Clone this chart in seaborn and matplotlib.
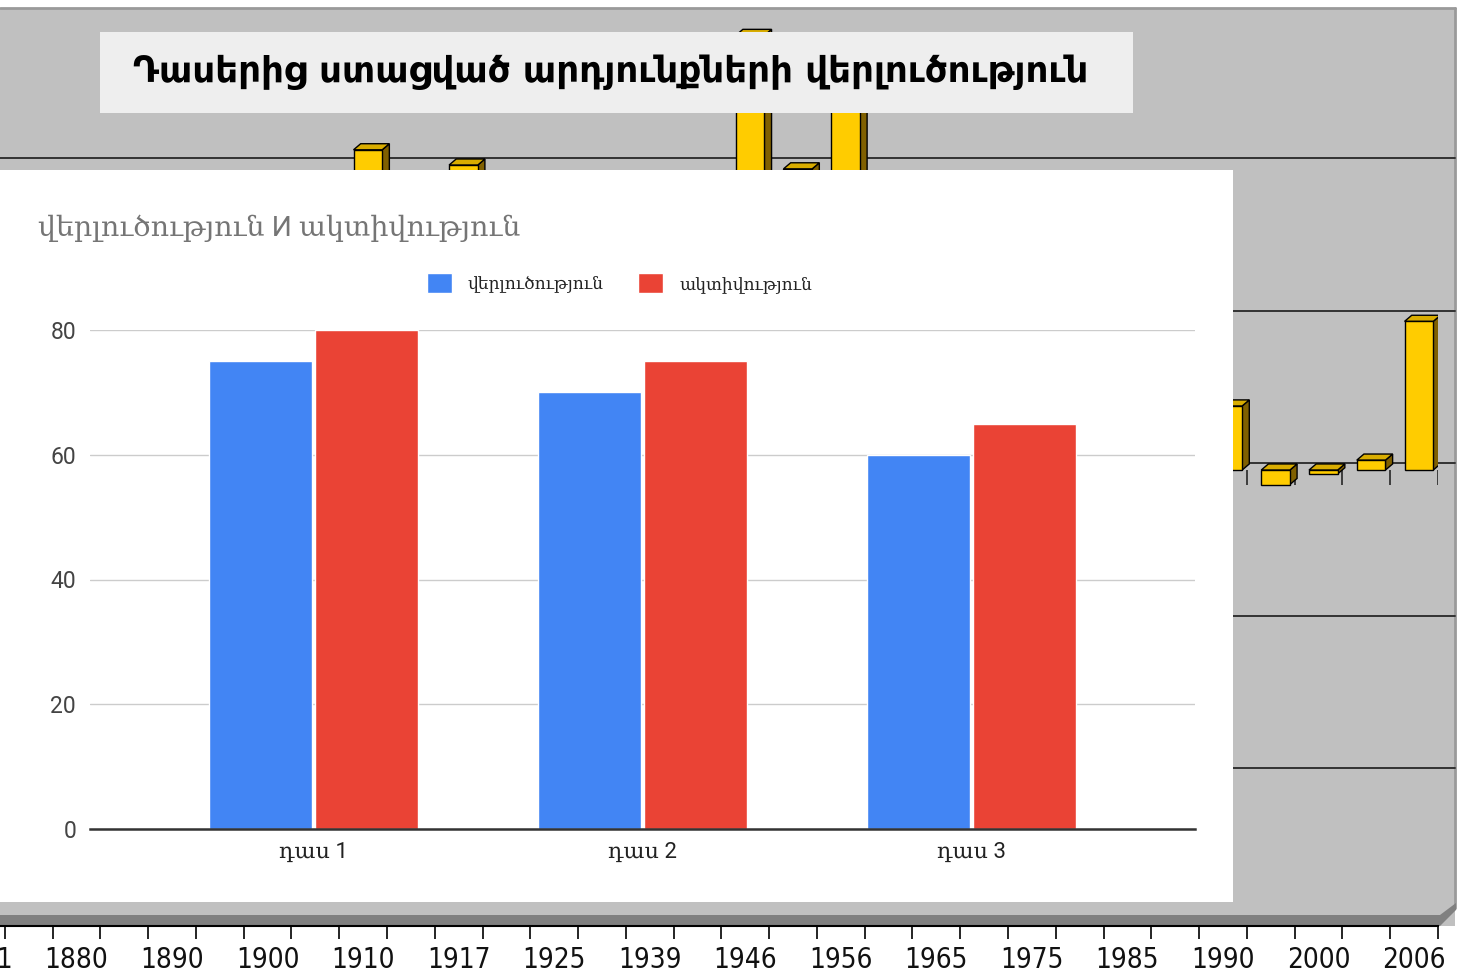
import numpy as np
import pandas as pd
import matplotlib
matplotlib.use("Agg")
import matplotlib.pyplot as plt
from matplotlib.patches import Rectangle, Polygon
from matplotlib.lines import Line2D
import seaborn as sns

# --- front chart data ---
lessons = ["դաս 1", "դաս 2", "դաս 3"]
series_names = ["վերլուծություն", "ակտիվություն"]
analysis = [75, 70, 60]
activity = [80, 75, 65]

# --- background (3D) chart data: only the bars that are visible ---
bg_years = ["1871", "1880", "1890", "1900", "1910", "1917", "1925", "1939",
            "1946", "1956", "1965", "1975", "1985", "1990", "2000", "2006"]
bg_bar_slots = [8, 10, 16, 17, 18, 26, 27, 28, 29, 30]
bg_bar_values = [42, 40, 57, 39.5, 52, 8.4, -1.9, -0.5, 1.3, 19.5]
bg_grid_values = [-40, -20, 0, 20, 40]

W, H = 1460, 973
BLUE, RED = "#4285f4", "#ea4335"


def fx(px):
    return px / W


def fy(py):
    return 1 - py / H


sns.set_theme(style="white")
plt.rcParams["font.family"] = ["DejaVu Sans"]

fig = plt.figure(figsize=(W / 100, H / 100), dpi=100)

# grey wall of the old chart
fig.add_artist(Rectangle((0, fy(926)), fx(1455), fy(8) - fy(926),
                         transform=fig.transFigure, facecolor="#c0c0c0",
                         edgecolor="none", zorder=-2))
fig.add_artist(Line2D([0, fx(1455)], [fy(8), fy(8)], transform=fig.transFigure,
                      color="#9a9a9a", lw=2, zorder=-1))
fig.add_artist(Line2D([fx(1455), fx(1455)], [fy(8), fy(908)], transform=fig.transFigure,
                      color="#9a9a9a", lw=2, zorder=-1))
# floor slab
fig.add_artist(Rectangle((0, fy(926)), fx(1440), fy(915) - fy(926),
                         transform=fig.transFigure, facecolor="#808080",
                         edgecolor="none", zorder=-1))
fig.add_artist(Polygon([(fx(1440), fy(915)), (fx(1456), fy(903)), (fx(1456), fy(910)),
                        (fx(1440), fy(926))], closed=True, transform=fig.transFigure,
                       facecolor="#808080", edgecolor="none", zorder=-1))

# background axes (front plane of the 3D chart)
ax_bg = fig.add_axes([fx(-43), fy(926), fx(1438 + 43), fy(8) - fy(926)], zorder=0)
ax_bg.set_facecolor("none")
ax_bg.set_xlim(-0.5, 30.5)
ax_bg.set_ylim(-59.8, 60.6)
for side in ["top", "right", "left"]:
    ax_bg.spines[side].set_visible(False)
ax_bg.spines["bottom"].set_color("black")
ax_bg.spines["bottom"].set_linewidth(1.5)

depth_x, depth_y = 17 / 47.77, 0.92
for v in bg_grid_values:
    ax_bg.plot([-0.5, 30.5 + depth_x], [v + depth_y] * 2, color="#333333",
               lw=1.4, clip_on=False, zorder=1)
ax_bg.vlines(np.arange(-0.5, 31, 1), -1.9, 0, color="#333333", lw=1.3, zorder=1.5)

bars = ax_bg.bar(np.array(bg_bar_slots) + 0.1, bg_bar_values, width=0.6,
                 color="#ffcc00", edgecolor="black", linewidth=1, zorder=3)
bdx, bdy = 0.15, 0.8
for b in bars:
    x0, x1 = b.get_x(), b.get_x() + b.get_width()
    y_lo = min(b.get_y(), b.get_y() + b.get_height())
    y_hi = max(b.get_y(), b.get_y() + b.get_height())
    ax_bg.add_patch(Polygon([(x1, y_lo), (x1 + bdx, y_lo + bdy), (x1 + bdx, y_hi + bdy),
                             (x1, y_hi)], closed=True, facecolor="#806000",
                            edgecolor="black", lw=1, zorder=2.5))
    ax_bg.add_patch(Polygon([(x0, y_hi), (x1, y_hi), (x1 + bdx, y_hi + bdy),
                             (x0 + bdx, y_hi + bdy)], closed=True, facecolor="#d9ad00",
                            edgecolor="black", lw=1, zorder=2.5))

ax_bg.set_yticks([])
ax_bg.set_xticks(np.arange(-0.5, 31, 1))
ax_bg.set_xticklabels([])
ax_bg.set_xticks(np.arange(0, 31, 2), labels=bg_years, minor=True)
ax_bg.tick_params(axis="x", which="major", length=9, width=1.2, color="black",
                  direction="out", bottom=True)
ax_bg.tick_params(axis="x", which="minor", length=0, pad=14.5, labelsize=20,
                  labelcolor="#111111")
for lab in ax_bg.get_xticklabels(minor=True):
    lab.set_family(["DejaVu Sans"])
    lab.set_stretch("condensed")

# title banner
fig.add_artist(Rectangle((fx(100), fy(113)), fx(1033), fy(32) - fy(113),
                         transform=fig.transFigure, facecolor="#eeeeee",
                         edgecolor="none", zorder=1.5))
fig.text(fx(133), fy(72), "Դասերից ստացված արդյունքների վերլուծություն",
         fontsize=25.7, fontweight="bold", color="black", va="center", ha="left",
         family=["DejaVu Sans"], zorder=3)

# white card for the front chart
fig.add_artist(Rectangle((0, fy(902)), fx(1233), fy(170) - fy(902),
                         transform=fig.transFigure, facecolor="white",
                         edgecolor="none", zorder=1))

# front chart
df = pd.DataFrame({
    "lesson": lessons * 2,
    "series": [series_names[0]] * 3 + [series_names[1]] * 3,
    "score": analysis + activity,
})
ax = fig.add_axes([fx(90), fy(829), fx(1105), fy(330) - fy(829)], zorder=2)
sns.barplot(data=df, x="lesson", y="score", hue="series", palette=[BLUE, RED],
            width=0.645, gap=0.025, saturation=1, errorbar=None, ax=ax)
ax.set_xlim(-0.68, 2.68)
ax.set_ylim(0, 80)
ax.set_yticks([0, 20, 40, 60, 80])
ax.set_xlabel("")
ax.set_ylabel("")
ax.yaxis.grid(True, color="#cccccc", lw=1)
ax.set_axisbelow(True)
for side in ["top", "right", "left"]:
    ax.spines[side].set_visible(False)
ax.spines["bottom"].set_color("#333333")
ax.spines["bottom"].set_linewidth(1.8)
ax.tick_params(axis="y", length=0, pad=10, labelsize=16.5, labelcolor="#444444")
ax.tick_params(axis="x", length=0, pad=9, labelsize=16, labelcolor="#222222")
for lab in ax.get_yticklabels():
    lab.set_family(["Roboto", "DejaVu Sans"])
for lab in ax.get_xticklabels():
    lab.set_family(["Roboto", "DejaVu Serif"])

sns.move_legend(ax, "center", bbox_to_anchor=(0.4792, 1.094), ncol=2, frameon=False,
                title=None, prop={"family": ["DejaVu Serif"], "size": 12.3},
                handlelength=1.45, handleheight=1.45, handletextpad=0.95,
                columnspacing=2.0)
for t in ax.get_legend().get_texts():
    t.set_color("#222222")

fig.text(fx(38), fy(228), "վերլուծություն И ակտիվություն", fontsize=20.5,
         color="#757575", va="center", ha="left",
         family=["Roboto", "DejaVu Serif"], zorder=3)

fig.savefig("out.png", dpi=100)
